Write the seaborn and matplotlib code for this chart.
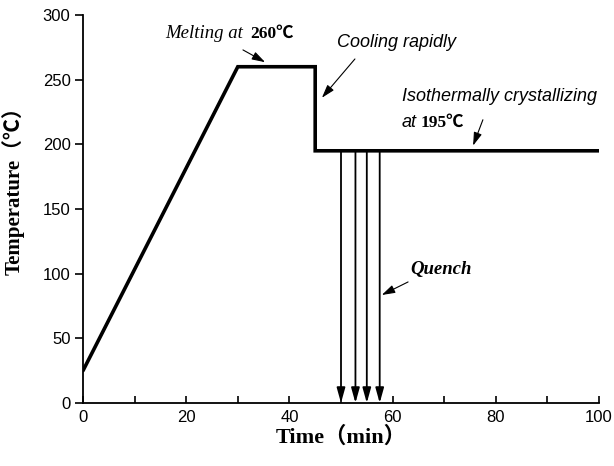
import matplotlib
matplotlib.use("Agg")
import matplotlib.pyplot as plt
import seaborn as sns
import pandas as pd

# data
time_min = [0, 30, 45, 45, 100]
temp_c = [25, 260, 260, 195, 195]
quench_times = [50, 52.8, 55, 57.5]
quench_from = 195
x_ticks = [0, 20, 40, 60, 80, 100]
y_ticks = [0, 50, 100, 150, 200, 250, 300]

sns.set_style("ticks")
plt.rcParams['font.family'] = ['Liberation Sans', 'DejaVu Sans']
plt.rcParams['text.color'] = 'black'
plt.rcParams['axes.labelcolor'] = 'black'
plt.rcParams['xtick.color'] = 'black'
plt.rcParams['ytick.color'] = 'black'

fig = plt.figure(figsize=(6.14, 4.66), dpi=100)
ax = fig.add_axes([83/614, 1-403/466, (599-83)/614, (403-15)/466])

df = pd.DataFrame({"Time": time_min, "Temp": temp_c})
sns.lineplot(data=df, x="Time", y="Temp", sort=False, estimator=None, errorbar=None,
             color="black", lw=2.6, ax=ax, solid_joinstyle="miter")

for qt in quench_times:
    ax.annotate("", xy=(qt, 0), xytext=(qt, quench_from),
                arrowprops=dict(arrowstyle="-|>,head_width=0.25,head_length=0.9",
                                lw=1.3, color="black", shrinkA=0, shrinkB=0,
                                mutation_scale=10))

ax.set_xlim(0, 100)
ax.set_ylim(0, 300)
ax.set_xticks(x_ticks)
ax.set_xticks([10, 30, 50, 70, 90], minor=True)
ax.set_yticks(y_ticks)
ax.tick_params(axis="x", direction="in", length=5, width=1.2, labelsize=12, pad=5, which="both")
ax.tick_params(axis="y", direction="out", length=6, width=1.2, labelsize=12, pad=3)
for s in ["left", "bottom"]:
    ax.spines[s].set_linewidth(1.3)
    ax.spines[s].set_color("black")
sns.despine(ax=ax)

serif = ['Liberation Serif', 'Noto Sans CJK SC']
ax.set_xlabel("Time（min）", family=serif, fontweight="bold", fontsize=16, labelpad=1)
ax.set_ylabel("Temperature（℃）", family=serif, fontweight="bold", fontsize=15)
ax.yaxis.set_label_coords(-0.113, 0.56)

arrow_kw = dict(arrowstyle="-|>,head_width=0.25,head_length=0.8", lw=0.8,
                color="black", shrinkA=0, shrinkB=0, mutation_scale=10)

# Melting annotation
ax.text(15.9, 282.3, "Melting at", family=serif, style="italic", fontsize=13.5, va="baseline")
ax.text(32.5, 282.3, "260℃", family=serif, fontweight="bold", fontsize=12.5, va="baseline")
ax.annotate("", xy=(35.3, 263.5), xytext=(31, 273), arrowprops=arrow_kw)

# Cooling rapidly
ax.text(49.2, 278.5, "Cooling rapidly", style="italic", fontsize=13, va="center")
ax.annotate("", xy=(46.3, 236), xytext=(52.7, 266), arrowprops=arrow_kw)

# Isothermal
ax.text(61.8, 236.7, "Isothermally crystallizing", style="italic", fontsize=13, va="center")
ax.text(61.8, 213.7, "at", style="italic", fontsize=13, va="baseline")
ax.text(65.5, 213.7, "195℃", family=serif, fontweight="bold", fontsize=12.5, va="baseline")
ax.annotate("", xy=(75.6, 199), xytext=(77.5, 219), arrowprops=arrow_kw)

# Quench
ax.text(63.4, 103, "Quench", family=serif, style="italic", fontweight="bold", fontsize=13.5, va="center")
ax.annotate("", xy=(57.9, 83.5), xytext=(63, 93.6), arrowprops=arrow_kw)

fig.savefig("out.png", dpi=100)
